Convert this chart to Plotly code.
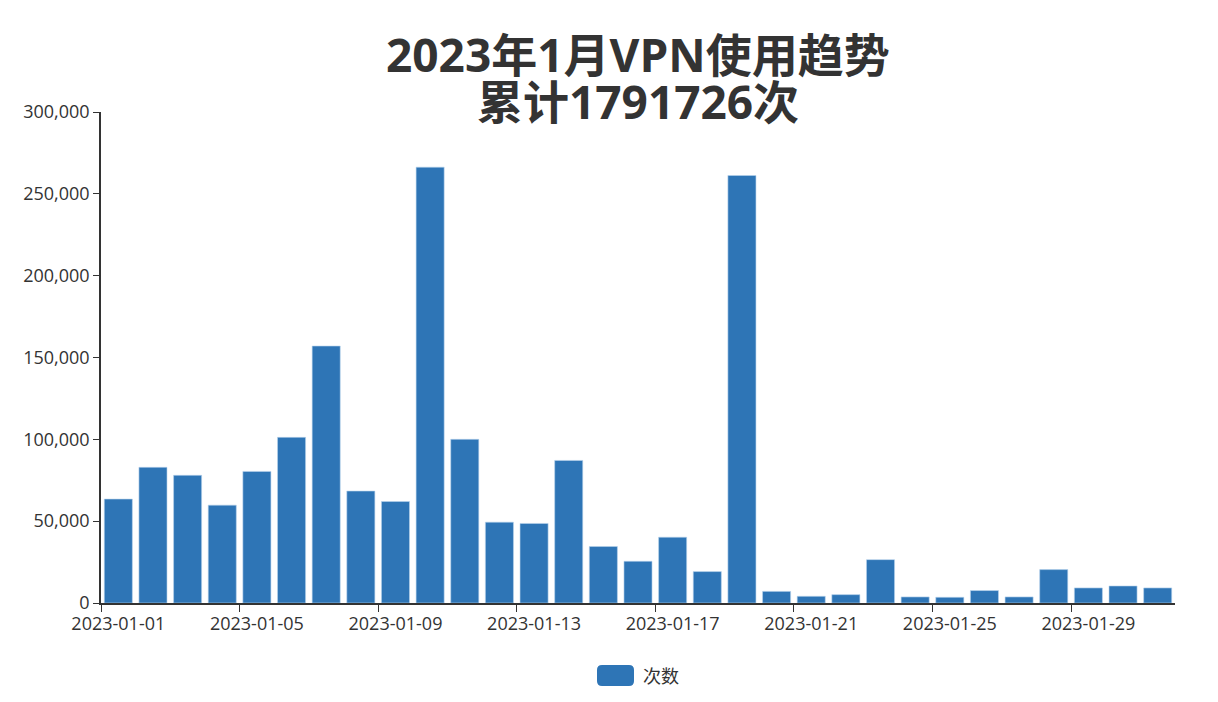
import plotly.graph_objects as go

# 2023年1月每日VPN使用次数
dates = [f"2023-01-{d:02d}" for d in range(1, 32)]
counts = [
    63500, 82900, 78000, 59800, 80400, 101200, 157000, 68400, 62000, 266300,
    100000, 49400, 48600, 87100, 34500, 25500, 40200, 19200, 261200, 7100,
    4100, 5100, 26500, 3700, 3500, 7600, 3700, 20400, 9200, 10400, 9200,
]
series_name = "次数"
title_lines = ["2023年1月VPN使用趋势", "累计1791726次"]
y_ticks = [0, 50000, 100000, 150000, 200000, 250000, 300000]

FONT = "Open Sans, Noto Sans CJK SC, sans-serif"
AXIS_COLOR = "#333333"
BAR_COLOR = "#2e75b6"

# 页面默认有 8px 的 body 边距，这里把画布尺寸相应缩小
W, H = 1210, 694
ML, MR, MT, MB = 93, 43, 104, 99
PW, PH = W - ML - MR, H - MT - MB


def px_to_paper(px, py):
    """把整页像素坐标换算成 paper 坐标。"""
    return (px - 8 - ML) / PW, (H - MB + 8 - py) / PH


fig = go.Figure(
    go.Bar(
        x=dates,
        y=counts,
        name=series_name,
        marker=dict(color=BAR_COLOR, line=dict(color="#b8d3ec", width=0.6)),
        showlegend=False,
    )
)

# 标题：两行分开放置，行距比默认更紧
for text, shift in zip(title_lines, [58, 11]):
    fig.add_annotation(
        text=f"<b>{text}</b>",
        xref="paper", yref="paper",
        x=0.5, y=1, yshift=shift,
        xanchor="center", yanchor="middle",
        showarrow=False,
        font=dict(family=FONT, size=46, color="#333333"),
    )

# 图例：圆角矩形 + 文字（仿 ECharts 样式）
sx, sy = px_to_paper(615.5, 675.5)
fig.add_shape(
    type="path",
    xref="paper", yref="paper",
    xsizemode="pixel", ysizemode="pixel",
    xanchor=sx, yanchor=sy,
    path="M -18.5,-5.5 Q -18.5,-10.5 -13.5,-10.5 L 13.5,-10.5 "
         "Q 18.5,-10.5 18.5,-5.5 L 18.5,5.5 Q 18.5,10.5 13.5,10.5 "
         "L -13.5,10.5 Q -18.5,10.5 -18.5,5.5 Z",
    fillcolor=BAR_COLOR,
    line=dict(width=0),
)
tx, ty = px_to_paper(641, 675.5)
fig.add_annotation(
    text=series_name,
    xref="paper", yref="paper",
    x=tx, y=ty,
    xanchor="left", yanchor="middle",
    showarrow=False,
    font=dict(family=FONT, size=18, color=AXIS_COLOR),
)

fig.update_layout(
    width=W,
    height=H,
    paper_bgcolor="white",
    plot_bgcolor="white",
    font=dict(family=FONT, size=18, color=AXIS_COLOR),
    margin=dict(l=ML, r=MR, t=MT, b=MB),
    bargap=0.19,
    showlegend=False,
)

fig.update_xaxes(
    type="category",
    tickmode="linear",
    tick0=0,
    dtick=4,
    tickson="boundaries",
    tickangle=0,
    ticks="outside",
    ticklen=7,
    ticklabelstandoff=4,
    tickcolor=AXIS_COLOR,
    showline=True,
    linecolor=AXIS_COLOR,
    linewidth=1.5,
    showgrid=False,
    automargin=False,
    tickfont=dict(size=18, color=AXIS_COLOR),
)

fig.update_yaxes(
    range=[0, 300000],
    tickvals=y_ticks,
    tickformat=",d",
    ticks="outside",
    ticklen=6,
    tickcolor=AXIS_COLOR,
    showline=True,
    linecolor=AXIS_COLOR,
    linewidth=1.5,
    showgrid=False,
    zeroline=False,
    automargin=False,
    tickfont=dict(size=18, color=AXIS_COLOR),
)

fig.write_html("out.html")
